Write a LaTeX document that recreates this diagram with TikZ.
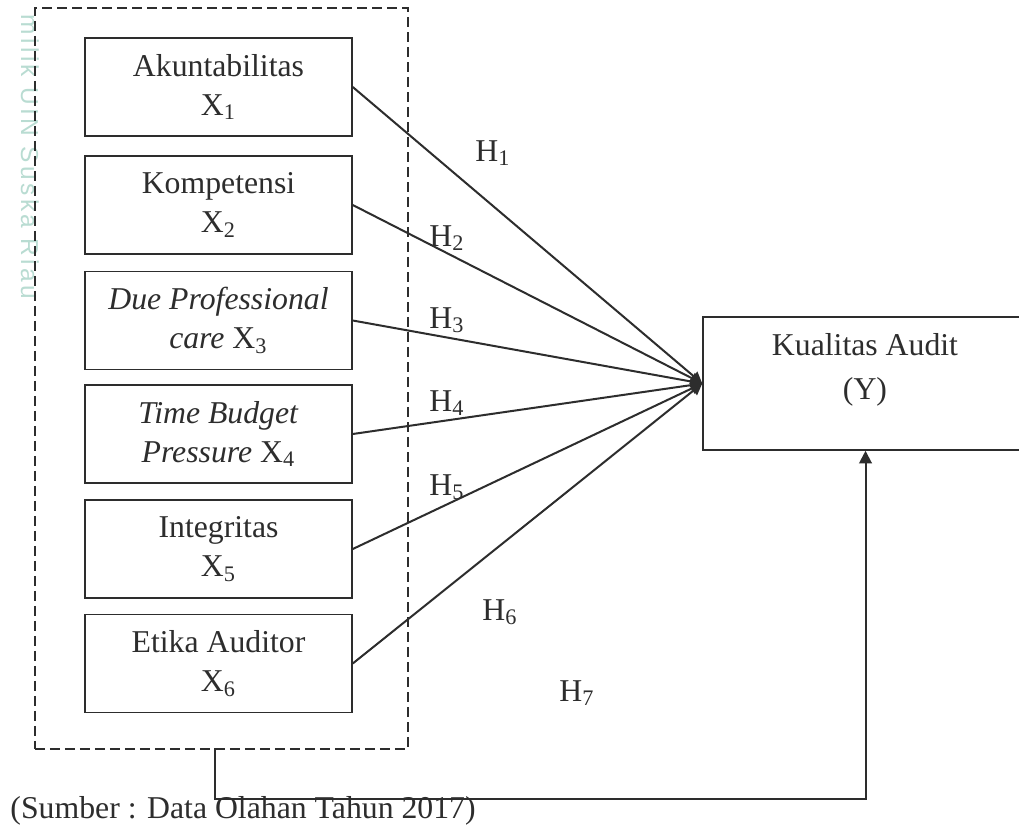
\documentclass[tikz,border=0pt]{standalone}
\usepackage{fontspec}
\setmainfont{Liberation Serif}
\setsansfont{Liberation Sans}
\usetikzlibrary{arrows.meta}

\definecolor{garis}{RGB}{45,45,45}
\definecolor{tandaair}{RGB}{185,220,210}

\tikzset{
  kotak/.style={draw=garis,line width=0.6pt,minimum width=106.8pt,
    minimum height=39.2pt,align=center,text=garis,inner sep=1pt,
    font=\fontsize{12.7}{15.6}\selectfont},
  hub/.style={draw=garis,line width=0.8pt,-{Triangle[length=4.6pt,width=4.6pt]}},
  hlabel/.style={text=garis,inner sep=0pt,font=\fontsize{12.7}{15.6}\selectfont}
}

\begin{document}
\begin{tikzpicture}[x=0.4pt,y=-0.4pt]
\clip (0,0) rectangle (1019,827);
\fill[white] (0,0) rectangle (1019,827);

% watermark
\node[rotate=-90,text=tandaair,inner sep=0pt,
    font=\sffamily\fontsize{9.8}{11}\selectfont\addfontfeatures{LetterSpace=14}]
    (wm) at (30,157) {milik UIN Suska Riau};

% kelompok variabel independen
\node[draw=garis,dashed,dash pattern=on 4pt off 2pt,line width=0.6pt,
    minimum width=149.2pt,minimum height=296.4pt,anchor=north west,inner sep=0pt]
    (grp) at (34,7) {};

\node[kotak] (x1) at (218.5,87) {Akuntabilitas\\X\textsubscript{1}};
\node[kotak] (x2) at (218.5,205) {Kompetensi\\X\textsubscript{2}};
\node[kotak] (x3) at (218.5,320.5) {\textit{Due Professional}\\\textit{care} X\textsubscript{3}};
\node[kotak] (x4) at (218.5,434) {\textit{Time Budget}\\\textit{Pressure} X\textsubscript{4}};
\node[kotak] (x5) at (218.5,549) {Integritas\\X\textsubscript{5}};
\node[kotak] (x6) at (218.5,663.5) {Etika Auditor\\X\textsubscript{6}};

% variabel dependen
\node[kotak,minimum width=130pt,minimum height=53.2pt] (ky) at (865.5,383.5) {};
\node[hlabel,align=center,font=\fontsize{12.7}{17.6}\selectfont]
    (kyText) at (865,370) {Kualitas Audit\\(Y)};

% hipotesis
\draw[hub] (x1.east) -- (ky.west);
\draw[hub] (x2.east) -- (ky.west);
\draw[hub] (x3.east) -- (ky.west);
\draw[hub] (x4.east) -- (ky.west);
\draw[hub] (x5.east) -- (ky.west);
\draw[hub] (x6.east) -- (ky.west);

\coordinate (grpBot) at (215,748);
\draw[hub,-{Triangle[length=5pt,width=5pt]}] (grpBot) -- (215,799) -| (ky.south);

\node[hlabel] (h1) at (493,153) {H\textsubscript{1}};
\node[hlabel] (h2) at (447,238) {H\textsubscript{2}};
\node[hlabel] (h3) at (447,320) {H\textsubscript{3}};
\node[hlabel] (h4) at (447,403) {H\textsubscript{4}};
\node[hlabel] (h5) at (447,487) {H\textsubscript{5}};
\node[hlabel] (h6) at (500,612) {H\textsubscript{6}};
\node[hlabel] (h7) at (577,693) {H\textsubscript{7}};

\node[hlabel,anchor=base west] (sumber) at (10,818)
    {(Sumber : Data Olahan Tahun 2017)};
\end{tikzpicture}
\end{document}
